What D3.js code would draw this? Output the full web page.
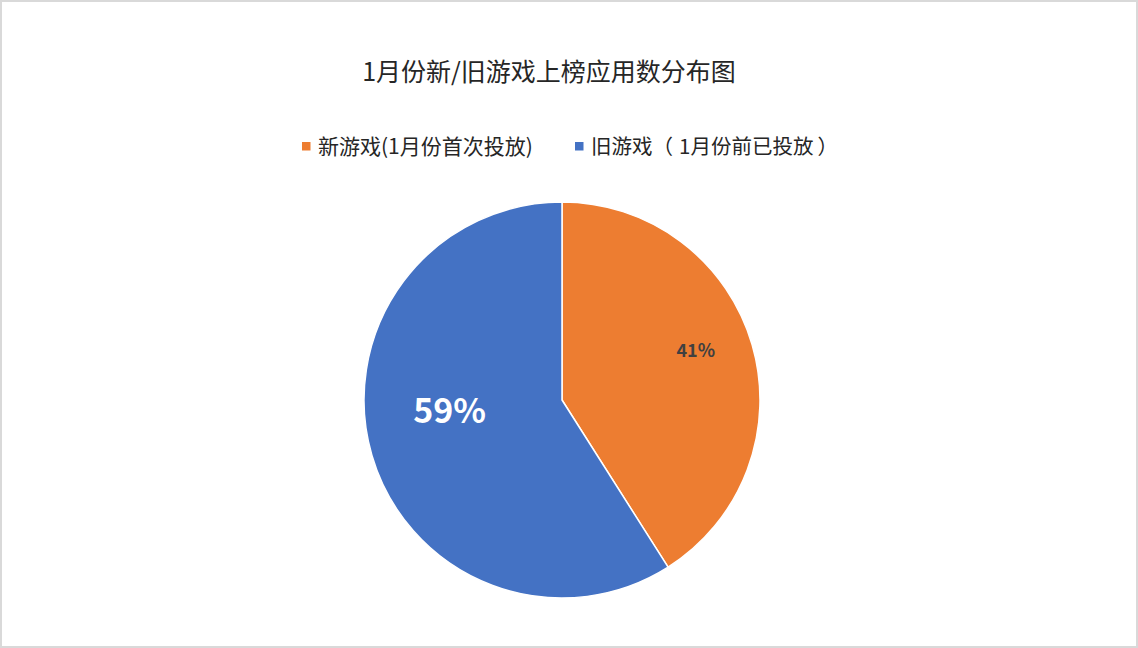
<!DOCTYPE html>
<html>
<head>
<meta charset="utf-8">
<script src="https://cdn.jsdelivr.net/npm/d3@7"></script>
<style>
  html, body { margin: 0; padding: 0; background: #fff; }
  svg { display: block; }
  text { font-family: "Microsoft YaHei", "Noto Sans CJK SC", "Noto Sans", sans-serif; }
</style>
</head>
<body>
<svg id="chart" width="1138" height="648"></svg>
<script>
const title = "1月份新/旧游戏上榜应用数分布图";
const categories = ["新游戏(1月份首次投放)", "旧游戏（1月份前已投放）"];
const values = [41, 59];
const labels = ["41%", "59%"];
const colors = ["#ED7D31", "#4472C4"];

const W = 1138, H = 648;
const svg = d3.select("#chart");

svg.append("rect")
  .attr("x", 1).attr("y", 1).attr("width", W - 2).attr("height", H - 2)
  .attr("fill", "#fff").attr("stroke", "#d9d9d9").attr("stroke-width", 2);

svg.append("text")
  .attr("x", 549).attr("y", 81)
  .attr("text-anchor", "middle")
  .attr("font-size", 25)
  .attr("fill", "#262626")
  .text(title);

// legend
const legendX = [302, 575];
const lg = svg.append("g");
categories.forEach((c, i) => {
  lg.append("rect")
    .attr("x", legendX[i]).attr("y", 142).attr("width", 8.5).attr("height", 8.5)
    .attr("fill", colors[i]);
  const t = lg.append("text")
    .attr("x", legendX[i] + 16).attr("y", 154)
    .attr("font-size", i === 1 ? 20.5 : 21)
    .attr("fill", "#262626");
  // split full-width parentheses so they can be spaced like the original
  const parts = c.split(/([（）])/).filter(p => p.length);
  parts.forEach((p, j) => {
    let dx = 0;
    if (j > 0 && parts[j - 1] === "（") dx = 6;
    else if (p === "）") dx = 4;
    t.append("tspan").attr("dx", dx).text(p);
  });
});

// pie
const cx = 562, cy = 400, R = 198;
const pie = d3.pie().sort(null).value(d => d)(values);
const arc = d3.arc().innerRadius(0).outerRadius(R);
const g = svg.append("g").attr("transform", `translate(${cx},${cy})`);
g.selectAll("path").data(pie).join("path")
  .attr("d", arc)
  .attr("fill", (d, i) => colors[i])
  .attr("stroke", "#fff")
  .attr("stroke-width", 1.5)
  .attr("stroke-linejoin", "round");

// data labels
const labelStyle = [
  { rf: 0.72, shift: -4, size: 18, color: "#404040" },
  { rf: 0.57, shift: 11, size: 34, color: "#ffffff" }
];
pie.forEach((d, i) => {
  const s = labelStyle[i];
  const a = (d.startAngle + d.endAngle) / 2 + s.shift * Math.PI / 180;
  const r = R * s.rf;
  const x = r * Math.sin(a), y = -r * Math.cos(a);
  g.append("text")
    .attr("x", x).attr("y", y - 2)
    .attr("text-anchor", "middle")
    .attr("dominant-baseline", "central")
    .attr("font-size", s.size)
    .attr("font-weight", "bold")
    .attr("fill", s.color)
    .text(labels[i]);
});
</script>
</body>
</html>
